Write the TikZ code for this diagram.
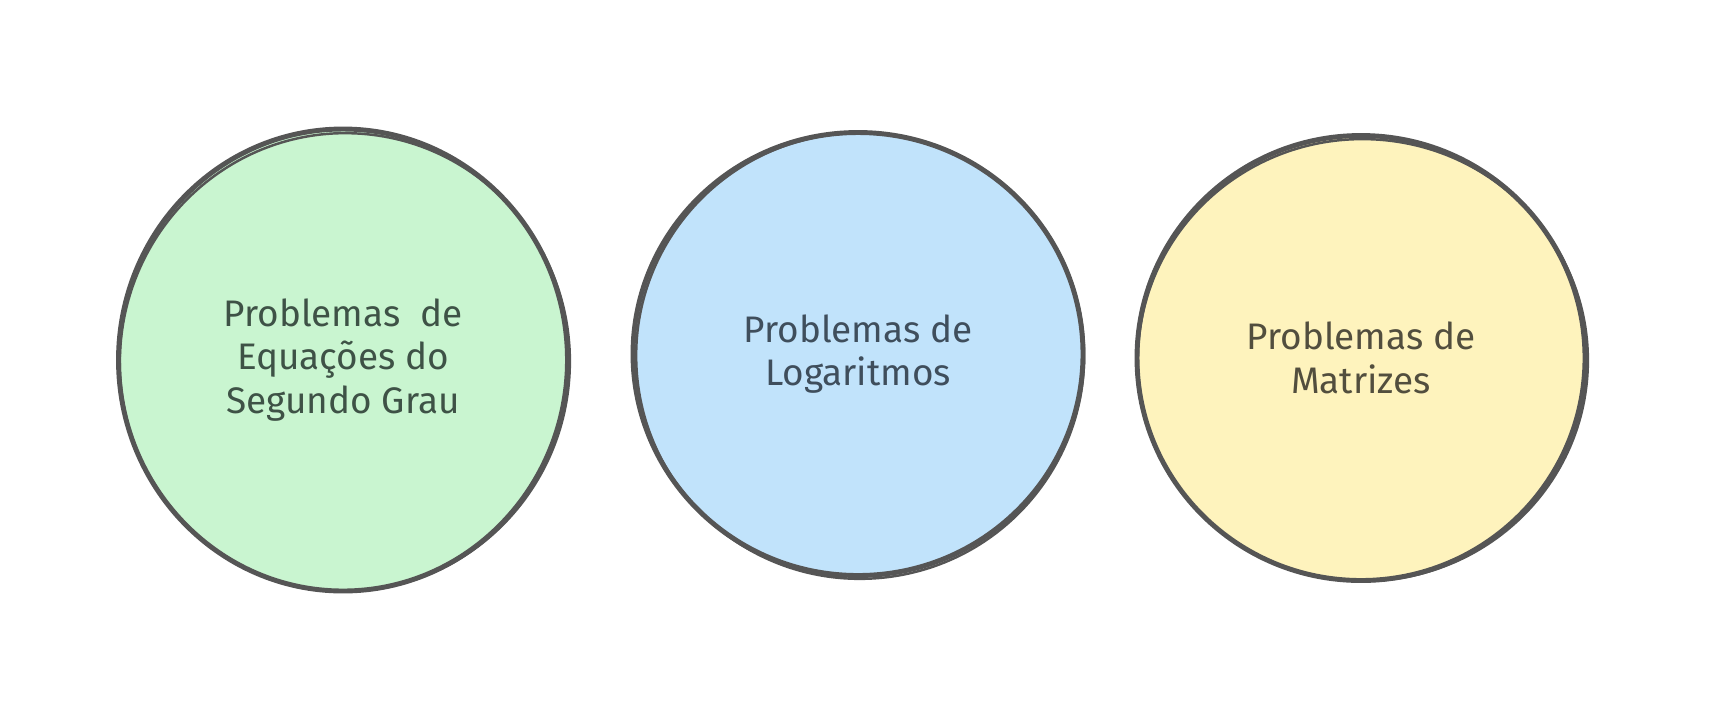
\documentclass[tikz,border=0pt]{standalone}
\usepackage{fontspec}
\setmainfont{Fira Sans}
\usepackage{tikz}
\usetikzlibrary{shapes.geometric}

\definecolor{strokegray}{HTML}{555555}
\definecolor{fillgreen}{HTML}{C9F5D0}
\definecolor{fillblue}{HTML}{C1E3FB}
\definecolor{fillyellow}{HTML}{FEF3BD}
\definecolor{textgreen}{HTML}{3E5246}
\definecolor{textblue}{HTML}{3F4E5C}
\definecolor{textyellow}{HTML}{524E3E}

\tikzset{
  topic/.style={ellipse, draw=strokegray, line width=1.4pt, inner sep=0pt,
    align=center, font=\fontsize{10.5}{12.4}\selectfont},
  sketch/.style={strokegray, line width=0.7pt},
}

\begin{document}
\begin{tikzpicture}
    \useasboundingbox (0,0) rectangle (17.18,7.26);

    % Circle 1
    \node[topic, fill=fillgreen, text=textgreen, minimum width=4.49cm, minimum height=4.62cm]
        (segundograu) at (3.43,3.66) {Problemas\ \ de\\Equações do\\Segundo Grau};
    \draw[sketch, rotate around={-4:(3.43,3.66)}]
        (3.45,3.64) ellipse (2.25cm and 2.29cm);

    % Circle 2
    \node[topic, fill=fillblue, text=textblue, minimum width=4.50cm, minimum height=4.43cm]
        (logaritmos) at (8.58,3.72) {Problemas de\\Logaritmos};
    \draw[sketch, rotate around={5:(8.58,3.72)}]
        (8.60,3.70) ellipse (2.24cm and 2.23cm);

    % Circle 3
    \node[topic, fill=fillyellow, text=textyellow, minimum width=4.48cm, minimum height=4.45cm]
        (matrizes) at (13.61,3.68) {Problemas de\\Matrizes};
    \draw[sketch, rotate around={-3:(13.61,3.68)}]
        (13.63,3.66) ellipse (2.25cm and 2.21cm);
\end{tikzpicture}
\end{document}
